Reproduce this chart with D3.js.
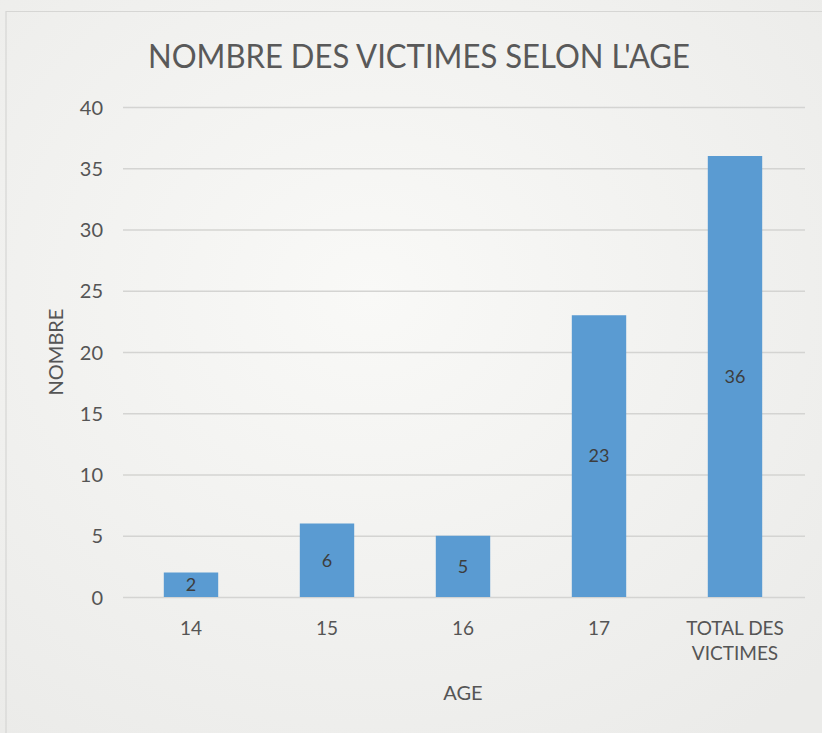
<!DOCTYPE html>
<html><head><meta charset="utf-8">
<script src="https://cdn.jsdelivr.net/npm/d3@7"></script>
<style>
html,body{margin:0;padding:0;background:#f1f1ef;}
svg{display:block;}
</style></head>
<body>
<script>
const categories = ["14", "15", "16", "17", "TOTAL DES VICTIMES"];
const values = [2, 6, 5, 23, 36];
const yTicks = [0, 5, 10, 15, 20, 25, 30, 35, 40];
const title = "NOMBRE DES VICTIMES SELON L'AGE";
const xTitle = "AGE";
const yTitle = "NOMBRE";

const W = 822, H = 733;
const font = "Lato, 'Open Sans', sans-serif";
const svg = d3.select("body").append("svg").attr("width", W).attr("height", H);

const defs = svg.append("defs");
const grad = defs.append("radialGradient").attr("id","paper").attr("cx","45%").attr("cy","40%").attr("r","75%");
grad.append("stop").attr("offset","0%").attr("stop-color","#f9f9f7");
grad.append("stop").attr("offset","100%").attr("stop-color","#ebebe9");
svg.append("rect").attr("width", W).attr("height", H).attr("fill","url(#paper)");

// chart border
svg.append("path").attr("d","M6,733 V11.5 H822").attr("fill","none").attr("stroke","#d6d6d4").attr("stroke-width",1.2);

const plot = {left: 123, right: 803, top: 107, bottom: 597};
const x = d3.scaleBand().domain(categories).range([plot.left, plot.right]).paddingInner(0.6).paddingOuter(0.3);
const y = d3.scaleLinear().domain([0, 40]).range([plot.bottom, plot.top]);

// gridlines
const yAxis = d3.axisLeft(y).tickValues(yTicks).tickSize(-(plot.right - plot.left + 2)).tickPadding(20);
const gy = svg.append("g").attr("transform", `translate(${plot.left},0)`).call(yAxis);
gy.select(".domain").remove();
gy.selectAll(".tick line").attr("stroke", "#d4d4d2").attr("stroke-width", 1.3);
gy.selectAll(".tick text").attr("font-family", font).attr("font-size", 20).attr("fill", "#555").attr("dy","0.35em").attr("x",-20);

// bars
svg.append("g").selectAll("rect").data(values).join("rect")
  .attr("x", (d,i) => x(categories[i]))
  .attr("width", x.bandwidth())
  .attr("y", d => y(d))
  .attr("height", d => y(0) - y(d))
  .attr("fill", "#5a9bd2");

// labels
svg.append("g").selectAll("text").data(values).join("text")
  .attr("x", (d,i) => x(categories[i]) + x.bandwidth()/2)
  .attr("y", d => (y(d) + y(0))/2)
  .attr("dy", "0.35em")
  .attr("text-anchor", "middle")
  .attr("font-family", font).attr("font-size", 18).attr("fill", "#3d3d3d")
  .text(d => d);

// x axis labels
const xAxis = d3.axisBottom(x).tickSize(0).tickPadding(0);
const gx = svg.append("g").attr("transform", `translate(0,${plot.bottom})`).call(xAxis);
gx.select(".domain").remove();
gx.selectAll(".tick text").remove();
gx.selectAll(".tick").each(function(d){
  const t = d3.select(this).append("text")
    .attr("text-anchor","middle").attr("font-family", font).attr("font-size", 19).attr("fill","#555");
  if (d === "TOTAL DES VICTIMES") {
    t.append("tspan").attr("x",0).attr("y",38).text("TOTAL DES");
    t.append("tspan").attr("x",0).attr("y",63).text("VICTIMES");
  } else {
    t.attr("x",0).attr("y",38).text(d);
  }
});

// titles
svg.append("text").attr("x", 419).attr("y", 68).attr("text-anchor","middle")
  .attr("font-family", font).attr("font-size", 32).attr("fill","#595959")
  .attr("textLength", 542).attr("lengthAdjust","spacingAndGlyphs").text(title);
svg.append("text").attr("x", 463).attr("y", 700).attr("text-anchor","middle")
  .attr("font-family", font).attr("font-size", 20).attr("fill","#555").text(xTitle);
svg.append("text").attr("transform","translate(63,352) rotate(-90)").attr("text-anchor","middle")
  .attr("font-family", font).attr("font-size", 20).attr("fill","#555").text(yTitle);
</script>
</body></html>
